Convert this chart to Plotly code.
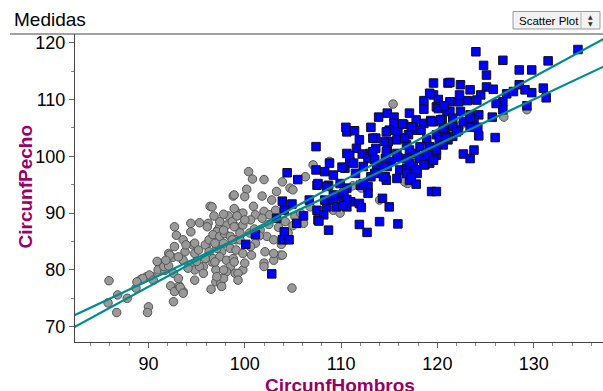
import plotly.graph_objects as go

# ---- data ----
gray_x = [96.4, 85.9, 85.8, 86.8, 86.7, 87.8, 88.7, 89.2, 89.8, 90.0, 89.9, 90.4, 91.0, 91.0, 91.7, 92.1, 92.5, 92.3,
          92.7, 92.6, 93.2, 93.6, 92.7, 92.9, 92.7, 93.6, 94.4, 94.4, 95.3, 96.2, 94.6, 94.8, 93.8, 94.4, 94.8, 95.7,
          96.5, 97.0, 97.5, 97.0, 96.6, 96.2, 96.8, 97.2, 97.6, 98.8, 98.3, 97.4, 98.1, 98.7, 99.1, 99.3, 93.9, 94.8,
          95.2, 95.9, 96.3, 97.1, 96.7, 97.4, 97.9, 98.5, 99.1, 97.8, 98.5, 99.1, 97.1, 96.3, 96.1, 96.7, 97.4, 98.1,
          98.8, 98.5, 99.0, 98.1, 97.8, 97.6, 90.9, 91.6, 90.1, 89.4, 88.8, 92.1, 92.6, 93.1, 93.3, 93.6, 94.1, 94.8,
          95.3, 95.7, 95.0, 93.6, 93.1, 92.2, 91.8, 90.5,
          100.4, 102.0, 103.9, 100.2, 98.9, 100.0, 96.6, 98.9, 100.9, 102.8, 102.0, 101.1, 99.8, 99.2, 97.4, 96.1,
          97.8, 98.9, 99.8, 100.6, 101.8, 102.6, 103.2, 104.7, 105.0, 101.6, 102.3, 103.0, 103.7, 102.1, 101.1, 100.6,
          99.5, 98.7, 96.9, 95.9, 96.9, 98.9, 99.8, 100.7, 103.0, 102.0, 99.8, 97.8, 97.1, 105.2, 105.8, 106.8, 106.1,
          107.1, 109.2, 102.0, 103.0, 103.9, 100.0, 99.3, 99.3, 104.9,
          115.4, 106.3, 116.9, 114.0, 126.9, 129.3, 122.5, 108.8, 111.2, 112.1, 109.9, 116.6,
          99.5, 100.5, 101.5, 100.0, 101.0, 102.5, 103.5, 104.2, 104.5, 103.8, 105.0, 104.5, 103.3, 101.8, 97.8, 96.8,
          100.8]
gray_y = [91.2, 78.1, 74.2, 75.6, 72.5, 75.0, 76.8, 78.3, 78.8, 73.5, 72.5, 78.8, 81.3, 80.0, 79.9, 82.9, 82.2, 77.2,
          76.2, 74.4, 77.2, 76.2, 87.6, 86.1, 84.1, 85.3, 88.2, 86.7, 88.3, 88.2, 84.4, 82.9, 83.2, 80.9, 80.0, 80.6,
          76.6, 77.9, 77.6, 80.0, 81.4, 84.7, 86.1, 87.0, 83.2, 93.0, 89.5, 87.6, 87.9, 88.5, 87.6, 90.0, 84.4, 84.7,
          83.5, 84.4, 85.3, 86.7, 86.2, 85.9, 86.4, 85.9, 85.3, 84.7, 83.8, 83.5, 83.8, 83.2, 82.3, 82.0, 82.3, 81.7,
          82.0, 80.6, 79.4, 79.7, 78.5, 77.1, 81.5, 80.6, 79.1, 78.5, 77.9, 80.7, 79.4, 78.5, 76.9, 75.9, 80.3, 78.2,
          80.6, 79.4, 81.5, 81.7, 82.3, 82.6, 81.7, 78.2,
          97.3, 95.9, 95.5, 94.2, 93.2, 92.9, 91.1, 90.8, 91.2, 92.3, 90.3, 89.7, 90.0, 89.5, 88.5, 87.6,
          87.0, 87.6, 87.9, 88.8, 89.1, 89.7, 90.5, 94.4, 94.1, 87.0, 85.9, 85.3, 82.6, 83.2, 84.7, 84.1,
          85.3, 85.3, 84.7, 82.0, 81.4, 81.4, 82.9, 82.6, 81.7, 81.2, 80.0, 80.0, 78.8, 89.4, 90.0, 91.1, 88.2,
          98.5, 90.5, 80.6, 82.9, 82.6, 81.2, 79.4, 78.2, 76.8,
          109.2, 96.4, 95.2, 92.3, 106.9, 108.2, 105.6, 99.1, 94.8, 94.4, 90.0, 95.5,
          86.5, 86.5, 86.0, 88.8, 87.2, 88.0, 87.5, 88.5, 86.5, 84.5, 87.8, 91.5, 93.8, 93.0, 89.8, 89.5,
          96.0]

blue_x = [107.4, 104.4, 105.5, 107.4, 103.9, 104.9, 104.1, 105.4, 106.1, 106.7, 107.5, 107.5, 108.2, 108.5, 107.6,
          108.7, 108.7, 108.8, 110.4, 110.6, 110.6, 110.1, 109.2, 104.1, 103.9, 104.6, 101.1, 100.1, 102.8, 103.3,
          110.6, 110.9, 107.7,
          119.6, 121.1, 119.6, 118.6, 120.1, 118.6, 119.9, 121.0, 117.1, 117.8, 114.8, 113.9, 115.5, 115.5, 116.5,
          117.5, 118.6, 119.3, 120.5, 110.5, 111.4, 113.1, 115.0, 115.9, 117.0, 117.9, 111.9, 113.6, 114.9, 116.1,
          116.8, 118.9, 119.9, 121.1, 111.6, 113.0, 113.6, 114.8, 115.8, 117.7, 118.8, 119.9, 110.9, 112.2, 112.8,
          114.6, 115.2, 116.8, 118.1, 119.6, 110.1, 111.3, 112.3, 113.7, 114.8, 116.1, 117.5, 118.7, 119.2, 108.3,
          109.2, 111.5, 113.1, 114.6, 115.8, 116.8, 107.6, 108.5, 109.9, 110.6, 112.0, 112.8, 114.7, 117.1, 117.8,
          119.4, 119.9, 109.2, 110.3, 111.0, 111.9, 112.8, 114.3, 115.0, 108.3, 109.5,
          117.1, 117.9, 112.3, 110.6, 110.2, 112.1, 111.9, 112.7, 114.0, 115.9,
          134.6, 124.0, 126.8, 131.5, 124.8, 125.1, 128.5, 129.8, 122.4, 123.4, 125.1, 125.8, 124.5, 127.2, 127.9,
          128.5, 129.1, 129.8, 131.0, 131.3, 126.8, 126.1, 126.8, 129.3, 119.2, 121.3, 122.2, 123.1, 124.1, 120.1,
          121.3, 122.4, 123.4, 124.3, 125.7, 121.6, 122.7, 123.8, 119.6, 120.8, 122.2, 123.4, 124.2, 121.6, 120.2,
          124.3, 126.0, 120.6, 119.6, 122.7, 123.8, 123.4,
          121.3, 122.3, 120.7, 116.4, 117.3, 118.3, 119.4, 120.3, 123.4, 120.6, 121.6, 122.0, 120.9, 113.3, 114.7,
          114.5, 115.8, 116.6, 117.1, 118.2, 119.2, 119.9, 114.7, 115.9, 119.0, 119.6, 113.3, 113.5, 114.4, 117.1,
          117.7, 118.6, 116.8, 114.4, 113.5, 117.3]
blue_y = [101.7, 97.1, 95.9, 97.6, 92.1, 91.6, 90.5, 88.2, 89.5, 92.3, 94.9, 90.5, 89.7, 91.1, 88.8,
          87.0, 94.9, 98.8, 97.9, 100.5, 91.1, 92.9, 92.3, 86.7, 85.3, 85.3, 86.2, 84.5, 79.3, 89.1,
          104.3, 99.1, 88.6,
          112.9, 112.9, 110.8, 109.8, 110.0, 108.3, 108.7, 107.9, 107.6, 106.4, 107.6, 106.9, 106.9, 105.8, 105.6,
          104.9, 105.8, 106.3, 106.5, 105.1, 104.5, 105.1, 104.6, 104.3, 103.8, 104.6, 102.9, 103.2, 102.6, 103.2,
          102.0, 102.9, 103.8, 102.9, 101.4, 100.5, 101.4, 101.1, 100.5, 100.5, 100.5, 100.2, 100.1, 100.4, 99.6,
          99.6, 99.1, 99.6, 99.6, 99.9, 98.1, 98.8, 98.2, 98.5, 98.2, 97.6, 98.2, 98.5, 98.8, 97.3,
          96.7, 97.0, 96.4, 96.4, 96.1, 97.9, 95.2, 94.7, 95.2, 94.4, 94.9, 94.7, 95.8, 95.8, 95.1,
          93.8, 93.8, 93.2, 93.5, 92.0, 91.7, 93.5, 92.6, 91.1, 92.3, 91.1,
          97.3, 97.0, 95.2, 92.4, 91.3, 91.0, 88.0, 86.6, 88.5, 88.1,
          118.8, 118.4, 116.9, 116.8, 116.0, 114.3, 115.2, 115.2, 112.6, 111.7, 112.2, 111.8, 110.8, 111.0, 111.4,
          112.6, 111.7, 111.2, 112.0, 110.3, 109.6, 109.3, 108.2, 108.9, 111.1, 109.6, 109.6, 109.8, 109.9, 108.4,
          107.9, 107.9, 107.3, 107.3, 106.9, 106.7, 106.1, 106.4, 106.1, 104.6, 104.6, 105.1, 105.1, 103.5, 102.9,
          103.6, 103.3, 102.0, 101.4, 100.4, 101.1, 99.6,
          113.0, 110.8, 108.9, 105.7, 105.2, 104.6, 106.1, 106.4, 106.7, 104.9, 105.2, 104.3, 103.2, 103.2, 104.3,
          102.6, 102.9, 103.2, 101.1, 101.7, 101.7, 101.1, 100.8, 99.8, 100.2, 99.3, 100.8, 99.4, 98.2, 98.8,
          97.6, 98.5, 97.0, 96.4, 97.0, 96.3]

# fitted lines (slope, intercept)
line_slopes = [0.923, 0.797]
line_intercepts = [-6.03, 6.40]

x_ticks = [90, 100, 110, 120, 130]
y_ticks = [70, 80, 90, 100, 110, 120]
x_range = [82.37, 137.2]
y_range = [67.31, 121.53]

x_title = "CircunfHombros"
y_title = "CircunfPecho"
chart_title = "Medidas"
menu_label = "Scatter Plot"

PURPLE = "#990066"
TEAL = "#008C8C"
FONT = "Liberation Sans, Arial, sans-serif"

fig = go.Figure()
fig.add_trace(go.Scatter(
    x=gray_x, y=gray_y, mode="markers",
    marker=dict(symbol="circle", size=8.5, color="#999999",
                line=dict(color="#555555", width=1)),
    hoverinfo="skip", showlegend=False))
fig.add_trace(go.Scatter(
    x=blue_x, y=blue_y, mode="markers",
    marker=dict(symbol="square", size=8.5, color="#0000FF",
                line=dict(color="#111111", width=1)),
    hoverinfo="skip", showlegend=False))

for m, b in zip(line_slopes, line_intercepts):
    xs = [x_range[0] - 2, x_range[1] + 2]
    fig.add_trace(go.Scatter(
        x=xs, y=[m * v + b for v in xs], mode="lines",
        line=dict(color=TEAL, width=2.2),
        hoverinfo="skip", showlegend=False))

L, R, T, B = 75, 0, 34, 49
W, H = 603, 391
PW, PH = W - L - R, H - T - B


def px(xp):
    return (xp - L) / PW


def py(yp):
    return 1 + (T - yp) / PH


fig.update_layout(
    width=W, height=H,
    margin=dict(l=L, r=R, t=T, b=B),
    paper_bgcolor="white", plot_bgcolor="white",
    font=dict(family=FONT, color="black"),
    xaxis=dict(range=x_range, tickvals=x_ticks, ticktext=[str(v) for v in x_ticks],
               showgrid=False, zeroline=False, showline=True, linecolor="#444444", linewidth=1,
               ticks="outside", ticklen=5, tickcolor="#666666", tickfont=dict(size=18, family=FONT),
               minor=dict(dtick=2, tick0=0, ticks="outside", ticklen=3, tickcolor="#888888"),
               automargin=False, fixedrange=True),
    yaxis=dict(range=y_range, tickvals=y_ticks, ticktext=[str(v) for v in y_ticks],
               showgrid=False, zeroline=False, showline=True, linecolor="#444444", linewidth=1,
               ticks="outside", ticklen=5, tickcolor="#666666", tickfont=dict(size=18, family=FONT),
               minor=dict(dtick=5, tick0=0, ticks="outside", ticklen=3, tickcolor="#888888"),
               automargin=False, fixedrange=True),
    shapes=[
        dict(type="line", xref="paper", yref="paper", x0=px(10), x1=px(603), y0=1, y1=1,
             line=dict(color="#444444", width=1)),
        dict(type="rect", xref="paper", yref="paper", x0=px(513), x1=px(600), y0=py(29), y1=py(11.5),
             line=dict(color="#9a9a9a", width=1), fillcolor="#f2f2f2"),
        dict(type="line", xref="paper", yref="paper", x0=px(581), x1=px(581), y0=py(28), y1=py(12.5),
             line=dict(color="#b0b0b0", width=1)),
    ],
    annotations=[
        dict(text=chart_title, xref="paper", yref="paper", x=px(12), y=py(19), xanchor="left",
             yanchor="middle", showarrow=False, font=dict(size=19, family=FONT, color="black")),
        dict(text=menu_label, xref="paper", yref="paper", x=px(549), y=py(21), xanchor="center",
             yanchor="middle", showarrow=False, font=dict(size=11.5, family=FONT, color="black")),
        dict(text="▲", xref="paper", yref="paper", x=px(590.5), y=py(17), xanchor="center",
             yanchor="middle", showarrow=False, font=dict(size=6, family="DejaVu Sans", color="#333333")),
        dict(text="▼", xref="paper", yref="paper", x=px(590.5), y=py(24), xanchor="center",
             yanchor="middle", showarrow=False, font=dict(size=6, family="DejaVu Sans", color="#333333")),
        dict(text="<b>%s</b>" % x_title, xref="paper", yref="paper", x=px(340), y=py(385),
             xanchor="center", yanchor="middle", showarrow=False,
             font=dict(size=19, family=FONT, color=PURPLE)),
        dict(text="<b>%s</b>" % y_title, xref="paper", yref="paper", x=px(25), y=py(186.5),
             xanchor="center", yanchor="middle", textangle=-90, showarrow=False,
             font=dict(size=19, family=FONT, color=PURPLE)),
    ],
)

fig.write_html("out.html", config={"displayModeBar": False},
               post_script="document.body.style.margin='0px';document.body.style.overflow='hidden';")
